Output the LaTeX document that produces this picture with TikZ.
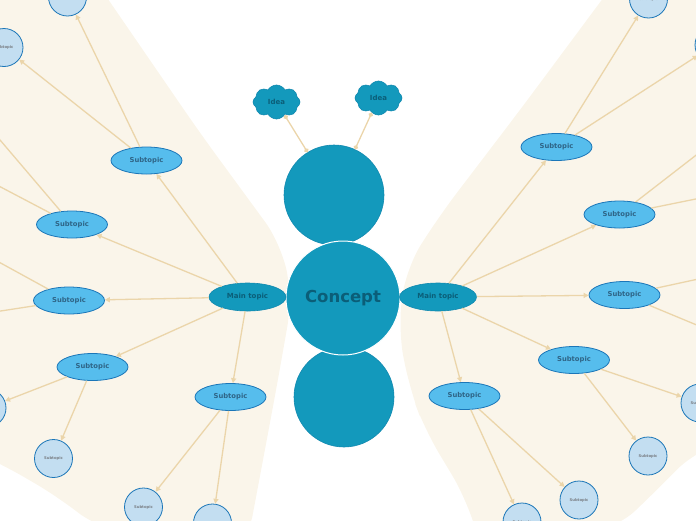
\documentclass[tikz,border=0pt]{standalone}
\usepackage{fontspec}
\setmainfont{DejaVu Sans}
\usetikzlibrary{shapes.geometric,shapes.symbols,arrows.meta}
\definecolor{bgbeige}{HTML}{FAF5EA}
\definecolor{cteal}{HTML}{1399BC}
\definecolor{ctealline}{HTML}{1289B0}
\definecolor{cdark}{HTML}{0B5E78}
\definecolor{subfill}{HTML}{56BDED}
\definecolor{subline}{HTML}{1B76B8}
\definecolor{subtext}{HTML}{2F6587}
\definecolor{leaffill}{HTML}{C3DEF1}
\definecolor{leaftext}{HTML}{7A7F85}
\definecolor{conn}{HTML}{EBD5AA}
\begin{document}
\begin{tikzpicture}[x=1pt,y=-1pt,
  blobfill/.style={fill=bgbeige, rounded corners=28pt},
  concept/.style={circle, fill=cteal, draw=white, line width=1pt, minimum size=114pt, inner sep=0pt,
    font=\bfseries\fontsize{16.5}{18}\selectfont, text=cdark},
  bigball/.style={circle, fill=cteal, draw=ctealline, line width=0.6pt, minimum size=100pt, inner sep=0pt},
  maintopic/.style={ellipse, fill=cteal, draw=ctealline, line width=0.6pt, minimum width=77pt, minimum height=28pt, inner sep=0pt,
    font=\bfseries\fontsize{7}{8}\selectfont, text=cdark},
  subtopic/.style={ellipse, fill=subfill, draw=subline, line width=0.8pt, minimum width=71pt, minimum height=27pt, inner sep=0pt,
    font=\bfseries\fontsize{6.8}{8}\selectfont, text=subtext},
  leaf/.style={circle, fill=leaffill, draw=subline, line width=0.8pt, minimum size=38pt, inner sep=0pt,
    font=\bfseries\fontsize{3.8}{4}\selectfont, text=leaftext},
  idea/.style={cloud, cloud puffs=8, cloud puff arc=120, aspect=1.4, fill=cteal, draw=ctealline, line width=0.6pt,
    minimum width=47pt, minimum height=34pt, inner sep=0pt, font=\bfseries\fontsize{7}{8}\selectfont, text=cdark},
  arr/.style={draw=conn, line width=1.3pt, -{Triangle[length=5pt,width=5pt]}},
  dotline/.style={draw=conn, line width=1.3pt, {Circle[length=4.5pt]}-{Circle[length=4.5pt]}}
]
\useasboundingbox (0,0) rectangle (696,520);
\clip (0,0) rectangle (696,520);

% background blobs
\path[blobfill] (-30,-30) -- (88,-30) -- (200,133) -- (282,245) -- (292,300) -- (277,385) -- (263,460) -- (247,545)
  -- (100,530) -- (60,498) -- (0,463) -- (-30,450) -- cycle;
\path[blobfill] (624,-30) -- (730,-30) -- (730,440) -- (696,450) -- (657,490) -- (615,530) -- (480,545) -- (467,500)
  -- (425,430) -- (410,390) -- (398,330) -- (406,268) -- (440,215) -- (520,110) -- cycle;

% central
\node[bigball] (top) at (334,195) {};
\node[bigball] (bot) at (344,397) {};
\node[concept] (concept) at (343,298) {Concept};

% ideas
\node[idea] (idea1) at (276.5,102) {Idea};
\node[idea] (idea2) at (378.5,98) {Idea};

% main topics
\node[maintopic] (ml) at (247.5,297) {Main topic};
\node[maintopic] (mr) at (438,297) {Main topic};

% left subtopics
\node[subtopic] (l1) at (146.5,160.5) {Subtopic};
\node[subtopic] (l2) at (72,224.5) {Subtopic};
\node[subtopic] (l3) at (69,300.5) {Subtopic};
\node[subtopic] (l4) at (92.5,367) {Subtopic};
\node[subtopic] (l5) at (230.5,397) {Subtopic};

% right subtopics
\node[subtopic] (r1) at (556.5,147) {Subtopic};
\node[subtopic] (r2) at (619.5,214.5) {Subtopic};
\node[subtopic] (r3) at (624.5,295) {Subtopic};
\node[subtopic] (r4) at (574,360) {Subtopic};
\node[subtopic] (r5) at (464.5,396) {Subtopic};

% leaves (left)
\node[leaf] (l1a) at (67.5,-3) {Subtopic};
\node[leaf] (l1b) at (4,47.5) {Subtopic};
\node[leaf] (l2a) at (-40,93) {};
\node[leaf] (l2b) at (-45,163) {};
\node[leaf] (l3a) at (-45,238) {};
\node[leaf] (l3b) at (-45,318) {};
\node[leaf] (l4a) at (-13,408) {Subtopic};
\node[leaf] (l4b) at (53.5,458.5) {Subtopic};
\node[leaf] (l5a) at (143.5,507) {Subtopic};
\node[leaf] (l5b) at (212.5,523) {Subtopic};

% leaves (right)
\node[leaf] (r1a) at (648.5,-1) {Subtopic};
\node[leaf] (r1b) at (714,45) {Subtopic};
\node[leaf] (r2a) at (735,125) {};
\node[leaf] (r2b) at (740,190) {};
\node[leaf] (r3a) at (740,270) {};
\node[leaf] (r3b) at (740,343) {};
\node[leaf] (r4a) at (700,403) {Subtopic};
\node[leaf] (r4b) at (648,456) {Subtopic};
\node[leaf] (r5a) at (579,500) {Subtopic};
\node[leaf] (r5b) at (522,522) {Subtopic};

% idea connectors
\draw[dotline] (idea1) -- (top);
\draw[dotline] (idea2) -- (top);

% main topic connectors
\foreach \t in {l1,l2,l3,l4,l5} \draw[arr] (ml) -- (\t);
\foreach \t in {r1,r2,r3,r4,r5} \draw[arr] (mr) -- (\t);

% subtopic to leaves
\foreach \s in {l1,l2,l3,l4,l5,r1,r2,r3,r4,r5} {
  \draw[arr] (\s) -- (\s a);
  \draw[arr] (\s) -- (\s b);
}
\end{tikzpicture}
\end{document}
